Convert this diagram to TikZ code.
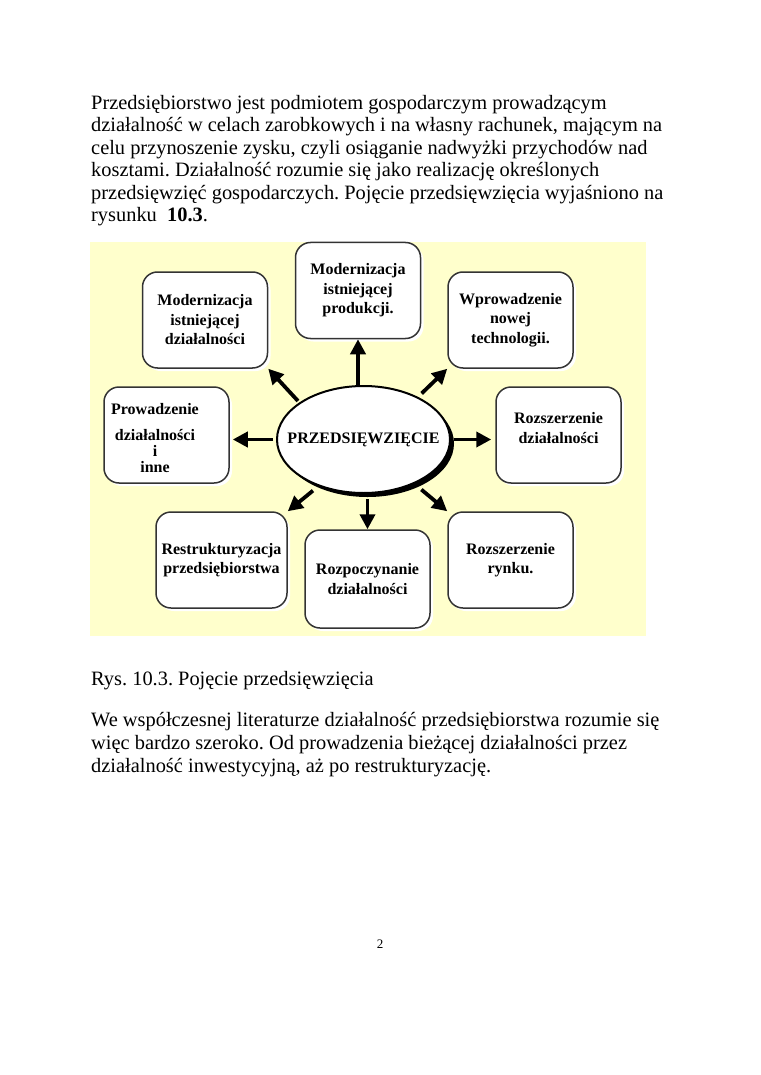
\documentclass[tikz,border=0pt]{standalone}
\usepackage{fontspec}
\setmainfont{Liberation Serif}
\usetikzlibrary{arrows.meta,shapes.geometric,shadows}
\definecolor{Pale}{HTML}{FFFFCC}
\definecolor{Edge}{HTML}{333333}
\frenchspacing

\tikzset{
  body/.style={anchor=base west,inner sep=0pt,font=\fontsize{20.4}{24}\selectfont},
  box/.style={draw=Edge,line width=1.5pt,fill=white,rounded corners=15pt,
    minimum width=125pt,minimum height=96pt,align=center,inner sep=2pt,
    font=\fontsize{16}{19.5}\selectfont\bfseries,
    drop shadow={fill=white,opacity=1,shadow xshift=3pt,shadow yshift=-3pt}},
  hub/.style={ellipse,draw=black,line width=2pt,fill=white,
    minimum width=173pt,minimum height=107pt,inner sep=0pt,
    font=\fontsize{16}{19.5}\selectfont\bfseries,
    drop shadow={fill=black,opacity=1,shadow xshift=4pt,shadow yshift=-4pt}},
  arr/.style={line width=3.8pt,-{Triangle[length=15pt,width=15pt]}},
}

\begin{document}
\begin{tikzpicture}[x=1pt,y=-1pt]
  \useasboundingbox (0,0) rectangle (760,1075);

  % text above the figure
  \foreach \yy/\txt in {110/{Przedsiębiorstwo jest podmiotem gospodarczym prowadzącym},
      132/{działalność w celach zarobkowych i na własny rachunek, mającym na},
      155/{celu przynoszenie zysku, czyli osiąganie nadwyżki przychodów nad},
      177/{kosztami. Działalność rozumie się jako realizację określonych},
      200/{przedsięwzięć gospodarczych. Pojęcie przedsięwzięcia wyjaśniono na},
      222/{rysunku\ \ \textbf{10.3}.}} {
    \node[body] (top\yy) at (91,\yy) {\txt};
  }

  % figure
  \fill[Pale] (90,242) rectangle (646,636);

  \node[box] (modp) at (358,290.5) {Modernizacja\\istniejącej\\produkcji.};
  \node[box] (modd) at (205,320) {Modernizacja\\istniejącej\\działalności};
  \node[box] (wpro) at (510.5,320) {Wprowadzenie\\nowej\\technologii.};
  \node[box] (prow) at (166.5,435) {};
  \node[font=\fontsize{16}{19.5}\selectfont\bfseries,align=center] (prowt) at (155,438)
    {Prowadzenie\\[7pt]działalności\\[-3.5pt]i\\[-3.5pt]inne};
  \node[box] (rozd) at (558.5,435) {Rozszerzenie\\działalności\\[-5.5pt]};
  \node[box,minimum width=131pt] (restr) at (221.5,560) {Restrukturyzacja\\przedsiębiorstwa};
  \node[box,minimum height=98pt] (rozp) at (367.5,579) {Rozpoczynanie\\działalności};
  \node[box] (rynk) at (510.5,560) {Rozszerzenie\\rynku.};

  \node[hub] (pw) at (363.5,439.5) {\makebox[0pt]{PRZEDSIĘWZIĘCIE}};

  \draw[arr] (pw.north -| modp.south) -- (modp.south);
  \draw[arr,shorten <=2pt] (pw.150) -- (modd.south east);
  \draw[arr,shorten <=5pt] (pw.38) -- (wpro.south west);
  \draw[arr,shorten <=3pt,shorten >=3pt] (pw.west) -- (pw.west -| prow.east);
  \draw[arr,shorten <=3pt,shorten >=4pt] (pw.east) -- (pw.east -| rozd.west);
  \draw[arr,shorten <=7pt] (pw.226) -- (restr.north east);
  \draw[arr,shorten <=5pt] (pw.south -| rozp.north) -- (rozp.north);
  \draw[arr,shorten <=9pt] (pw.319) -- (rynk.north west);

  % text below the figure
  \node[body] (cap) at (91,685) {Rys. 10.3. Pojęcie przedsięwzięcia};
  \foreach \yy/\txt in {726/{We współczesnej literaturze działalność przedsiębiorstwa rozumie się},
      749/{więc bardzo szeroko. Od prowadzenia bieżącej działalności przez},
      772/{działalność inwestycyjną, aż po restrukturyzację.}} {
    \node[body] (bot\yy) at (91,\yy) {\txt};
  }

  \node[anchor=base,font=\fontsize{13}{15}\selectfont] (pnum) at (380,948) {2};
\end{tikzpicture}
\end{document}
